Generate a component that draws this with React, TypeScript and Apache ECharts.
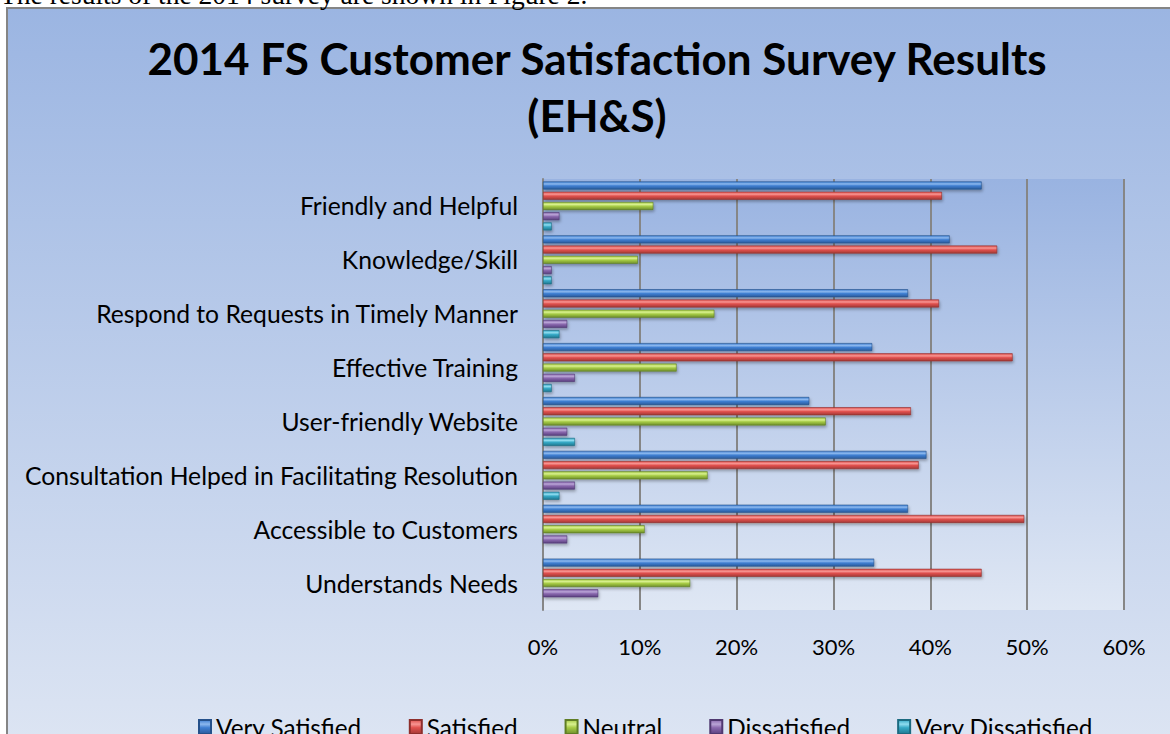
import React, { useEffect, useRef } from "react";
import * as echarts from "echarts";

const categories = [
  "Friendly and Helpful",
  "Knowledge/Skill",
  "Respond to Requests in Timely Manner",
  "Effective Training",
  "User-friendly Website",
  "Consultation Helped in Facilitating Resolution",
  "Accessible to Customers",
  "Understands Needs",
];

const verySatisfied = [45.3, 42.0, 37.7, 34.0, 27.5, 39.6, 37.7, 34.2];
const satisfied = [41.2, 46.9, 40.9, 48.5, 38.0, 38.8, 49.7, 45.3];
const neutral = [11.4, 9.8, 17.7, 13.8, 29.2, 17.0, 10.5, 15.2];
const dissatisfied = [1.7, 0.9, 2.5, 3.3, 2.5, 3.3, 2.5, 5.7];
const veryDissatisfied: (number | null)[] = [0.9, 0.9, 1.7, 0.9, 3.3, 1.7, null, null];

const seriesNames = ["Very Satisfied", "Satisfied", "Neutral", "Dissatisfied", "Very Dissatisfied"];
const tickMax = 60;
const tickStep = 10;

const palettes = [
  { light: "#8cb8ee", mid: "#3f7fd2", dark: "#2b5b9c", edge: "#24508a" },
  { light: "#f79592", mid: "#e0504d", dark: "#a33a37", edge: "#8e2f2c" },
  { light: "#d8f08e", mid: "#a6cb45", dark: "#6f8f2c", edge: "#5f7d24" },
  { light: "#b9a4d6", mid: "#8a68ae", dark: "#5b4180", edge: "#4f3870" },
  { light: "#8fdcef", mid: "#36a9c6", dark: "#1f7890", edge: "#1b6a80" },
];

function grad(p: { light: string; mid: string; dark: string }) {
  return new echarts.graphic.LinearGradient(0, 0, 0, 1, [
    { offset: 0, color: p.mid },
    { offset: 0.3, color: p.light },
    { offset: 0.55, color: p.mid },
    { offset: 1, color: p.dark },
  ]);
}

export default function App() {
  const ref = useRef<HTMLDivElement>(null);
  useEffect(() => {
    if (!ref.current) return;
    const chart = echarts.init(ref.current, undefined, { renderer: "svg" });
    const datas = [verySatisfied, satisfied, neutral, dissatisfied, veryDissatisfied];
    chart.setOption({
      animation: false,
      backgroundColor: "#ffffff",
      graphic: [
        {
          type: "rect",
          z: -10,
          shape: { x: 7, y: 8, width: 1180, height: 740 },
          style: {
            fill: new echarts.graphic.LinearGradient(0, 0, 0, 1, [
              { offset: 0, color: "#9bb5e2" },
              { offset: 1, color: "#dde5f3" },
            ]),
            stroke: "#858585",
            lineWidth: 2,
          },
        },
        {
          type: "text",
          x: 0,
          y: 8,
          z: -5,
          style: {
            text: "The results of the 2014 survey are shown in Figure 2.",
            font: "27.5px 'Liberation Serif', 'DejaVu Serif', serif",
            fill: "#000",
            verticalAlign: "bottom",
          },
        },
      ],
      title: {
        text: "2014 FS Customer Satisfaction Survey Results\n(EH&S)",
        left: 592,
        top: 24,
        textAlign: "center",
        textStyle: {
          fontFamily: "Lato",
          fontWeight: "bold",
          fontSize: 44,
          lineHeight: 57,
          color: "#000",
        },
      },
      legend: {
        left: 193,
        top: 710,
        itemWidth: 12,
        itemHeight: 14,
        itemGap: 47,
        icon: "rect",
        textStyle: { fontFamily: "Lato", fontSize: 24.3, color: "#000" },
        data: seriesNames,
      },
      grid: {
        left: 543,
        right: 46,
        top: 179,
        bottom: 124,
        show: true,
        borderWidth: 0,
        backgroundColor: new echarts.graphic.LinearGradient(0, 0, 0, 1, [
          { offset: 0, color: "#99b3e1" },
          { offset: 1, color: "#dfe7f4" },
        ]),
      },
      xAxis: {
        type: "value",
        min: 0,
        max: tickMax,
        interval: tickStep,
        axisLine: { show: false },
        axisTick: { show: false },
        splitLine: { show: true, lineStyle: { color: "#868686", width: 2 } },
        axisLabel: {
          formatter: "{value}%",
          fontFamily: "Lato",
          fontSize: 22,
          color: "#000",
          margin: 25,
        },
      },
      yAxis: {
        type: "category",
        inverse: true,
        data: categories,
        axisLine: { show: true, lineStyle: { color: "#868686", width: 2 } },
        axisTick: { show: false },
        axisLabel: {
          fontFamily: "Lato",
          fontSize: 24.7,
          color: "#000",
          margin: 25,
        },
      },
      series: seriesNames.map((name, i) => ({
        name,
        type: "bar",
        data: datas[i],
        barWidth: 8,
        barGap: "28%",
        itemStyle: {
          color: grad(palettes[i]),
          borderColor: palettes[i].edge,
          borderWidth: 0.6,
          shadowBlur: 3,
          shadowOffsetX: 1,
          shadowOffsetY: 2,
          shadowColor: "rgba(0,0,0,0.3)",
        },
      })),
    });
    return () => chart.dispose();
  }, []);
  return (
    <div
      ref={ref}
      style={{ position: "fixed", left: 0, top: 0, width: 1170, height: 734 }}
    />
  );
}
